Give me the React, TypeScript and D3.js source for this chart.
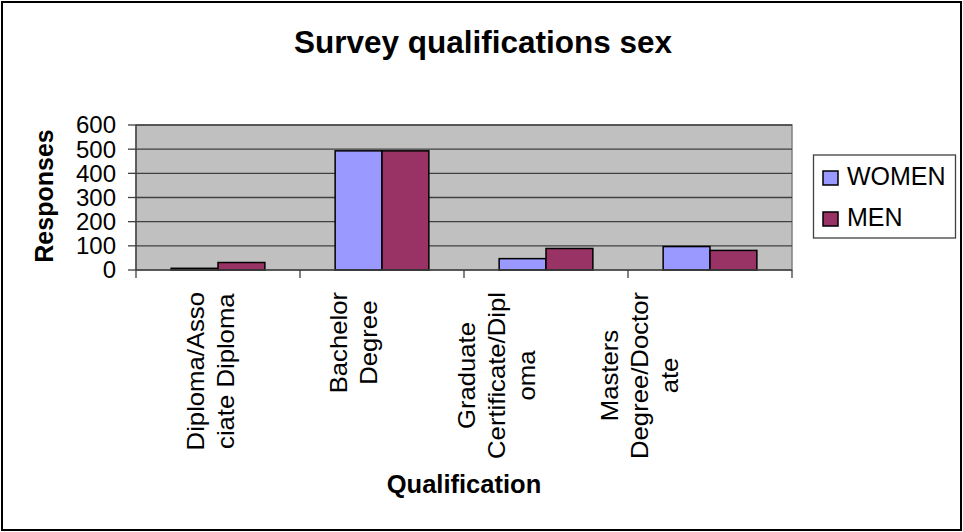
import React from "react";
import * as d3 from "d3";

const categories = [
  ["Diploma/Asso", "ciate Diploma"],
  ["Bachelor", "Degree"],
  ["Graduate", "Certificate/Dipl", "oma"],
  ["Masters", "Degree/Doctor", "ate"],
];
const categoryKeys = ["Diploma/Associate Diploma", "Bachelor Degree", "Graduate Certificate/Diploma", "Masters Degree/Doctorate"];
const seriesNames = ["WOMEN", "MEN"];
const women = [7, 493, 47, 97];
const men = [31, 493, 89, 81];
const yTicks = [0, 100, 200, 300, 400, 500, 600];
const colors = ["#9999FF", "#993366"];

const W = 963;
const H = 532;
const plot = { left: 136, right: 792, top: 125, bottom: 270 };
const FONT = "Arial, 'Liberation Sans', sans-serif";

function measure(text: string, font: string): number {
  const c = document.createElement("canvas");
  const ctx = c.getContext("2d")!;
  ctx.font = font;
  return ctx.measureText(text).width;
}

export default function App() {
  const x0 = d3.scaleBand<string>().domain(categoryKeys).range([plot.left, plot.right]).paddingInner(0).paddingOuter(0);
  const x1 = d3.scaleBand<string>().domain(seriesNames).range([0, x0.bandwidth()]).paddingInner(0).paddingOuter(0.75);
  const y = d3.scaleLinear().domain([0, 600]).range([plot.bottom, plot.top]);
  const labelX = d3.scalePoint<string>().domain(categoryKeys).range([211, 640]);
  const series = [women, men];
  const tickFont = `24px ${FONT}`;
  const lineH = 30;
  const stretch = 1.07;

  return (
    <svg width={W} height={H} style={{ position: "absolute", left: 0, top: 0, background: "#fff" }}>
      <rect x={2} y={2} width={959} height={528} fill="#fff" stroke="#000" strokeWidth={2} />
      <text x={483} y={53} textAnchor="middle" fontFamily={FONT} fontWeight="bold" fontSize={31.5}>
        Survey qualifications sex
      </text>
      {/* plot area */}
      <rect x={plot.left} y={plot.top} width={plot.right - plot.left} height={plot.bottom - plot.top} fill="#C0C0C0" stroke="#808080" strokeWidth={1.5} />
      {yTicks.slice(1).map((t) => (
        <line key={t} x1={plot.left} x2={plot.right} y1={y(t)} y2={y(t)} stroke="#404040" strokeWidth={1.3} />
      ))}
      {/* bars */}
      {categoryKeys.map((c, i) =>
        seriesNames.map((s, j) => {
          const v = series[j][i];
          return (
            <rect
              key={c + s}
              x={x0(c)! + x1(s)!}
              y={y(v)}
              width={x1.bandwidth()}
              height={y(0) - y(v)}
              fill={colors[j]}
              stroke="#000"
              strokeWidth={1.5}
            />
          );
        })
      )}
      {/* axes */}
      <line x1={plot.left} x2={plot.left} y1={plot.top} y2={plot.bottom} stroke="#404040" strokeWidth={1.3} />
      <line x1={plot.left} x2={plot.right} y1={plot.bottom} y2={plot.bottom} stroke="#404040" strokeWidth={1.3} />
      {yTicks.map((t) => (
        <g key={t}>
          <line x1={plot.left - 8} x2={plot.left} y1={y(t)} y2={y(t)} stroke="#404040" strokeWidth={1.3} />
          <text x={116} y={y(t)} dy="0.35em" textAnchor="end" fontFamily={FONT} fontSize={24}>
            {t}
          </text>
        </g>
      ))}
      {[...categoryKeys.map((c) => x0(c)!), plot.right].map((xv, i) => (
        <line key={i} x1={xv} x2={xv} y1={plot.bottom} y2={plot.bottom + 8} stroke="#404040" strokeWidth={1.3} />
      ))}
      {/* category labels */}
      {categories.map((lines, i) => {
        const maxW = Math.max(...lines.map((l) => measure(l, tickFont))) * stretch;
        const top = 292;
        const cy = top + maxW / 2;
        const cx = labelX(categoryKeys[i])!;
        const n = lines.length;
        return (
          <g key={i} transform={`translate(${cx},${cy}) rotate(-90) scale(${stretch},1)`}>
            {lines.map((l, k) => (
              <text key={k} x={0} y={(k - (n - 1) / 2) * lineH} dy="0.35em" textAnchor="middle" fontFamily={FONT} fontSize={24}>
                {l}
              </text>
            ))}
          </g>
        );
      })}
      {/* axis titles */}
      <text transform={`translate(53,196) rotate(-90)`} textAnchor="middle" fontFamily={FONT} fontWeight="bold" fontSize={25}>
        Responses
      </text>
      <text x={464} y={493} textAnchor="middle" fontFamily={FONT} fontWeight="bold" fontSize={25.5}>
        Qualification
      </text>
      {/* legend */}
      <rect x={813.5} y={155} width={142} height={83} fill="#fff" stroke="#404040" strokeWidth={1.3} />
      {seriesNames.map((s, j) => (
        <g key={s}>
          <rect x={823} y={171 + j * 41} width={15} height={14} fill={colors[j]} stroke="#000" strokeWidth={1.5} />
          <text x={847} y={185 + j * 41} fontFamily={FONT} fontSize={25}>
            {s}
          </text>
        </g>
      ))}
    </svg>
  );
}
